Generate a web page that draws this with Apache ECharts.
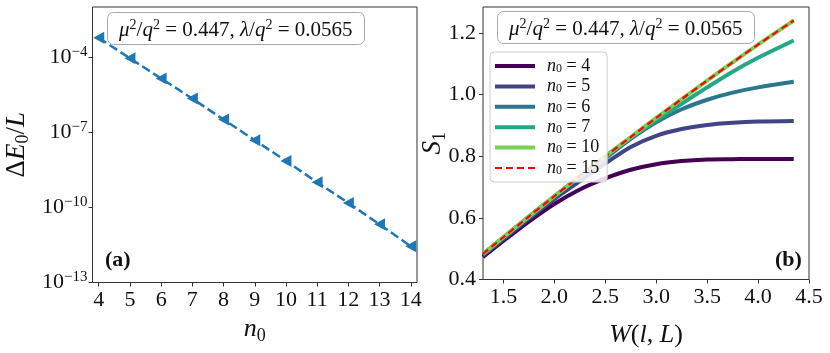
<!DOCTYPE html>
<html>
<head>
<meta charset="utf-8">
<script src="https://cdn.jsdelivr.net/npm/echarts@6/dist/echarts.min.js"></script>
<style>html,body{margin:0;padding:0;background:#fff}#main{width:830px;height:353px}</style>
</head>
<body>
<div id="main"></div>
<script>
var FONT = "'Liberation Serif', 'DejaVu Serif', serif";

// panel (a): ground-state gap vs n0
var n0Values = [4, 5, 6, 7, 8, 9, 10, 11, 12, 13, 14];
var gapValues = [5.9e-4, 8.9e-5, 1.4e-5, 2.2e-6, 3.2e-7, 4.8e-8, 7.1e-9, 1.0e-9, 1.5e-10, 2.1e-11, 2.8e-12];

// panel (b): entanglement entropy S1 vs W(l,L)
var wValues = [1.3, 1.5, 1.75, 2.0, 2.25, 2.5, 2.75, 3.0, 3.25, 3.5, 3.75, 4.0, 4.35];
var s1N4  = [0.473, 0.525, 0.588, 0.645, 0.692, 0.728, 0.756, 0.774, 0.784, 0.789, 0.790, 0.791, 0.791];
var s1N5  = [0.478, 0.531, 0.597, 0.661, 0.719, 0.776, 0.830, 0.866, 0.888, 0.901, 0.908, 0.912, 0.914];
var s1N6  = [0.482, 0.536, 0.603, 0.669, 0.733, 0.793, 0.856, 0.910, 0.952, 0.983, 1.006, 1.023, 1.041];
var s1N7  = [0.483, 0.537, 0.604, 0.670, 0.735, 0.799, 0.860, 0.916, 0.970, 1.023, 1.074, 1.119, 1.175];
var s1N10 = [0.483, 0.537, 0.604, 0.670, 0.735, 0.799, 0.862, 0.924, 0.985, 1.045, 1.104, 1.162, 1.240];
var s1N15 = [0.483, 0.537, 0.604, 0.670, 0.735, 0.799, 0.862, 0.924, 0.985, 1.045, 1.104, 1.162, 1.240];

var n0Names = ['4', '5', '6', '7', '10', '15'];
var s1Sets = [s1N4, s1N5, s1N6, s1N7, s1N10, s1N15];
var lineColors = ['#440154', '#414487', '#2a788e', '#22a884', '#7ad151', '#ff0000'];

function makeRich(size, lh) {
  var small = Math.round(size * 0.68);
  lh = lh || Math.round(size * 1.2);
  var base = {fontFamily: FONT, fontSize: size, lineHeight: lh, color: '#111', fontWeight: 'normal'};
  return {
    n: base,
    i: Object.assign({}, base, {fontStyle: 'italic'}),
    sup: Object.assign({}, base, {fontSize: small, lineHeight: small + 1, verticalAlign: 'top'}),
    sub: Object.assign({}, base, {fontSize: small, lineHeight: small + 1, verticalAlign: 'bottom'})
  };
}

var boxText = '{i|μ}{sup|2}{n|/}{i|q}{sup|2}{n| = 0.447, }{i|λ}{n|/}{i|q}{sup|2}{n| = 0.0565}';
var dashIcon = 'path://M0,0h7v2h-7z M11,0h7v2h-7z M22,0h7v2h-7z M33,0h7v2h-7z';

var series = [{
  name: 'gap',
  type: 'line',
  xAxisIndex: 0,
  yAxisIndex: 0,
  data: n0Values.map(function (n, i) { return [n, Math.log10(gapValues[i])]; }),
  symbol: 'path://M0,5 L10,0 L10,10 Z',
  symbolSize: [11, 12],
  itemStyle: {color: '#1f77b4'},
  lineStyle: {color: '#1f77b4', width: 2.5, type: [9, 4]}
}];

s1Sets.forEach(function (arr, k) {
  var dashed = k === 5;
  series.push({
    name: n0Names[k],
    type: 'line',
    xAxisIndex: 1,
    yAxisIndex: 1,
    data: wValues.map(function (w, i) { return [w, arr[i]]; }),
    symbol: 'none',
    smooth: 0.3,
    itemStyle: {color: lineColors[k]},
    lineStyle: {color: lineColors[k], width: dashed ? 2.2 : 4, type: dashed ? [7, 4] : 'solid'}
  });
});

var tickStyle = {show: true, inside: false, length: 4, lineStyle: {color: '#333'}};
var labelBase = {color: '#111', fontFamily: FONT, fontSize: 22};

var option = {
  animation: false,
  backgroundColor: '#fff',
  grid: [
    {left: 92.5, top: 7, width: 324.5, height: 275.5, show: true, borderColor: '#333', borderWidth: 1},
    {left: 483, top: 7, width: 326, height: 275.5, show: true, borderColor: '#333', borderWidth: 1}
  ],
  title: [
    {text: boxText, left: 107, top: 12, padding: [6, 12, 4, 12], borderColor: '#aaa', borderWidth: 1, borderRadius: 6, backgroundColor: '#fff', textStyle: {rich: makeRich(21)}},
    {text: boxText, left: 497, top: 11, padding: [6, 12, 4, 12], borderColor: '#aaa', borderWidth: 1, borderRadius: 6, backgroundColor: '#fff', textStyle: {rich: makeRich(21)}},
    {text: '(a)', left: 100, top: 244, textStyle: {fontFamily: FONT, fontWeight: 'bold', fontSize: 22, color: '#111'}},
    {text: '(b)', left: 770, top: 244, textStyle: {fontFamily: FONT, fontWeight: 'bold', fontSize: 22, color: '#111'}}
  ],
  legend: {
    data: n0Names.map(function (nm, k) { return {name: nm, icon: k === 5 ? dashIcon : 'rect'}; }),
    orient: 'vertical',
    left: 490,
    top: 52,
    itemWidth: 40,
    itemHeight: 4,
    itemGap: 2.4,
    padding: [5, 8, 5, 5],
    backgroundColor: 'rgba(255,255,255,0.85)',
    borderColor: '#ccc',
    borderWidth: 1,
    borderRadius: 4,
    formatter: function (name) { return '{i|n}{sub|0}{n| = ' + name + '}'; },
    textStyle: {padding: [0, 0, 0, 7], rich: makeRich(18, 17)}
  },
  xAxis: [{
    type: 'value', gridIndex: 0, min: 3.8, max: 14.2, splitNumber: 10,
    axisLine: {show: false}, splitLine: {show: false}, axisTick: tickStyle,
    axisLabel: Object.assign({margin: 7, showMinLabel: false, showMaxLabel: false}, labelBase),
    name: '{i|n}{sub|0}', nameLocation: 'middle', nameGap: 25,
    nameTextStyle: {rich: makeRich(26)}
  }, {
    type: 'value', gridIndex: 1, min: 1.3, max: 4.5, splitNumber: 6,
    axisLine: {show: false}, splitLine: {show: false}, axisTick: tickStyle,
    axisLabel: Object.assign({margin: 7, showMinLabel: false, formatter: function (v) { return v.toFixed(1); }}, labelBase),
    name: '{i|W}{n|(}{i|l}{n|, }{i|L}{n|)}', nameLocation: 'middle', nameGap: 40,
    nameTextStyle: {rich: makeRich(26)}
  }],
  yAxis: [{
    type: 'value', gridIndex: 0, min: -13, max: -2, interval: 3,
    axisLine: {show: false}, splitLine: {show: false}, axisTick: tickStyle,
    axisLabel: {margin: 5, showMaxLabel: false, rich: makeRich(22),
      formatter: function (v) { return '{n|10}{sup|' + String(v).replace('-', '\u2212') + '}'; }},
    name: '{n|Δ}{i|E}{sub|0}{n|/}{i|L}', nameLocation: 'middle', nameGap: 60,
    nameTextStyle: {rich: makeRich(27)}
  }, {
    type: 'value', gridIndex: 1, min: 0.4, max: 1.2837, interval: 0.2,
    axisLine: {show: false}, splitLine: {show: false}, axisTick: tickStyle,
    axisLabel: Object.assign({margin: 7, showMaxLabel: false, formatter: function (v) { return v.toFixed(1); }}, labelBase),
    name: '{i|S}{sub|1}', nameLocation: 'middle', nameGap: 34, nameMoveOverlap: false,
    nameTextStyle: {rich: makeRich(27)}
  }],
  series: series
};

var chart = echarts.init(document.getElementById('main'));
chart.setOption(option);
</script>
</body>
</html>
